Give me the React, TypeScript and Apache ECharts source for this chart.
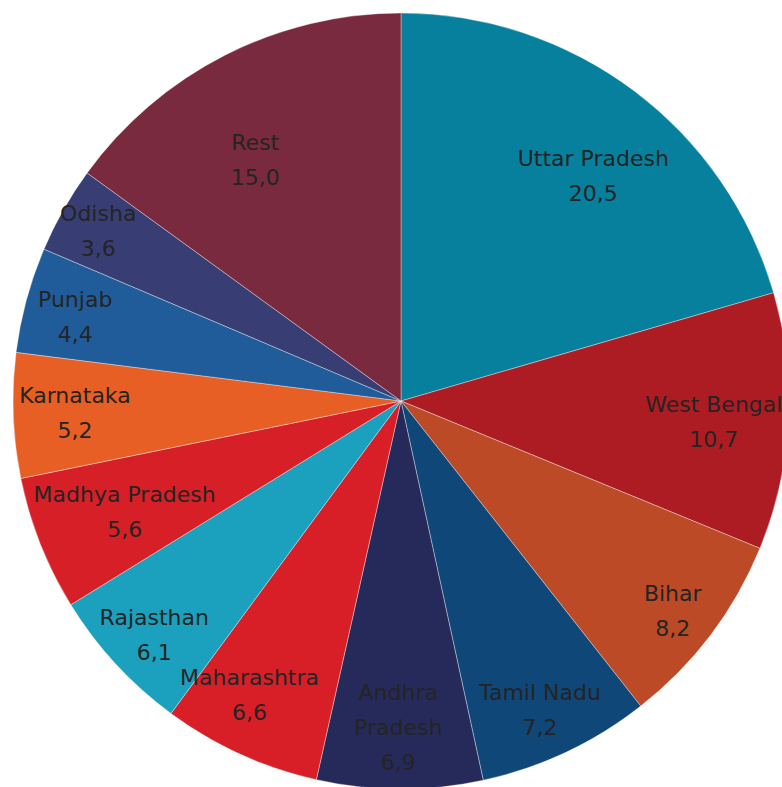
import React, { useEffect, useRef } from "react";
import * as echarts from "echarts";

const states = [
  "Uttar Pradesh",
  "West Bengal",
  "Bihar",
  "Tamil Nadu",
  "Andhra Pradesh",
  "Maharashtra",
  "Rajasthan",
  "Madhya Pradesh",
  "Karnataka",
  "Punjab",
  "Odisha",
  "Rest",
];
const shares = [20.5, 10.7, 8.2, 7.2, 6.9, 6.6, 6.1, 5.6, 5.2, 4.4, 3.6, 15.0];
const colors = [
  "#06809C",
  "#AD1C22",
  "#BC4A26",
  "#0F4778",
  "#262A5A",
  "#D81F27",
  "#1BA0BE",
  "#D71F27",
  "#E75F24",
  "#215C9A",
  "#383E74",
  "#7A2A3E",
];
// label placement style: radial distance as a fraction of the radius, and a small angular nudge (degrees)
const labelRadiusFactor = [0.763, 0.808, 0.885, 0.874, 0.841, 0.852, 0.876, 0.767, 0.841, 0.867, 0.895, 0.725];
const labelAngleNudge = [3.6, 0.8, 0.6, 1.0, 0.3, 2.8, -0.8, -0.2, 0, -0.7, -0.2, -4.2];

export default function App() {
  const ref = useRef<HTMLDivElement>(null);
  useEffect(() => {
    if (!ref.current) return;
    const chart = echarts.init(ref.current, null, { renderer: "svg" });
    const R = 388;
    const cx = 401;
    const cy = 401;
    const fmt = (v: number) => v.toFixed(1).replace(".", ",");
    const total = shares.reduce((a, b) => a + b, 0);
    const midAngles: number[] = [];
    let acc = 0;
    shares.forEach((v) => {
      midAngles.push(((acc + v / 2) / total) * Math.PI * 2);
      acc += v;
    });
    chart.setOption({
      animation: false,
      series: [
        {
          type: "pie",
          center: [cx, cy],
          radius: [0, R],
          startAngle: 90,
          clockwise: true,
          silent: true,
          labelLine: { show: false },
          itemStyle: { borderColor: "rgba(255,255,255,0.6)", borderWidth: 0.6 },
          label: {
            show: true,
            position: "inside",
            rotate: 0,
            fontFamily: "DejaVu Sans",
            fontSize: 22,
            lineHeight: 35,
            color: "#242424",
            align: "center",
            verticalAlign: "middle",
            formatter: (p: any) =>
              (p.name === "Andhra Pradesh" ? "Andhra\nPradesh" : p.name) + "\n" + fmt(p.value),
          },
          labelLayout: (params: any) => {
            const i = params.dataIndex;
            const a = midAngles[i] + (labelAngleNudge[i] * Math.PI) / 180;
            const r = R * labelRadiusFactor[i];
            return {
              x: cx + r * Math.sin(a),
              y: cy - r * Math.cos(a),
              align: "center",
              verticalAlign: "middle",
            };
          },
          data: states.map((n, i) => ({
            name: n,
            value: shares[i],
            itemStyle: { color: colors[i] },
          })),
        },
      ],
    });
    return () => chart.dispose();
  }, []);
  return (
    <div
      ref={ref}
      style={{ position: "fixed", left: 0, top: 0, width: 782, height: 787, background: "#fff" }}
    />
  );
}
